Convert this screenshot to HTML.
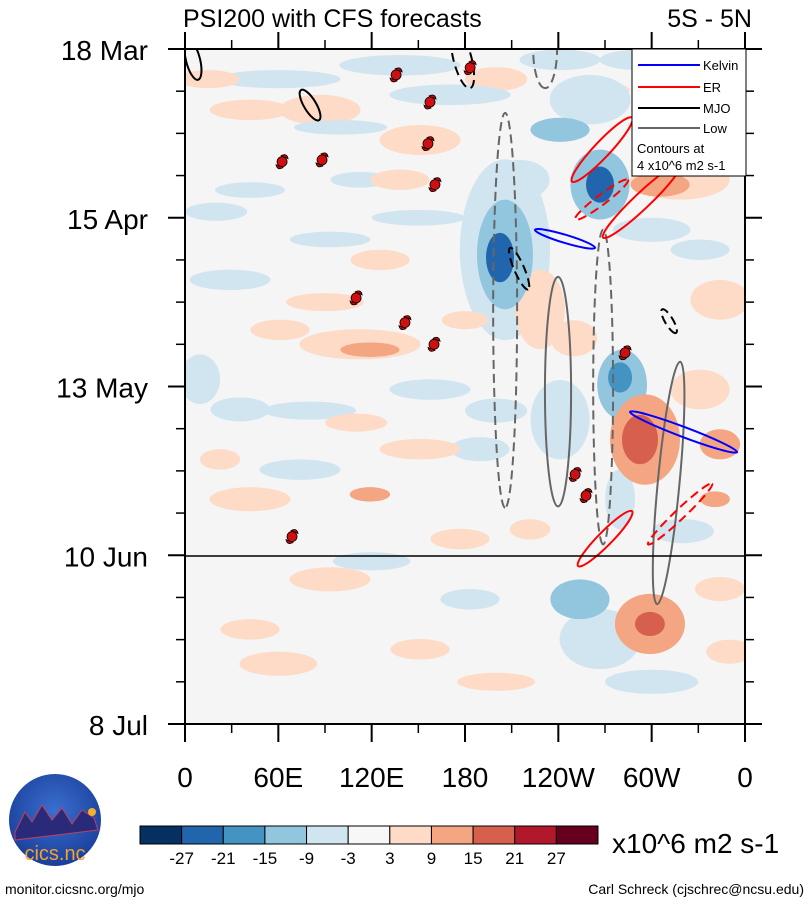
<!DOCTYPE html>
<html><head><meta charset="utf-8">
<style>
html,body{margin:0;padding:0;background:#fff;}
svg{display:block;font-family:"Liberation Sans",Arial,sans-serif;}
</style></head>
<body>
<svg id="chart" width="809" height="907" viewBox="0 0 809 907" xmlns="http://www.w3.org/2000/svg">
<defs>
<clipPath id="plotclip"><rect x="185" y="49" width="560" height="675"/></clipPath>
<radialGradient id="logog" cx="50%" cy="40%" r="60%"><stop offset="0" stop-color="#3a6fd0"/><stop offset="1" stop-color="#1a3f9a"/></radialGradient>
</defs>
<text x="183" y="27" font-size="25" fill="#000">PSI200 with CFS forecasts</text>
<text x="752" y="27" font-size="25" text-anchor="end" fill="#000">5S - 5N</text>
<rect x="185" y="49" width="560" height="675" fill="#f5f5f5"/>
<g id="field" clip-path="url(#plotclip)"></g>
<g id="contours" clip-path="url(#plotclip)"></g>
<g id="storms"></g>
<line x1="185" y1="556" x2="745" y2="556" stroke="#000" stroke-width="1.5"/>
<rect x="185" y="49" width="560" height="675" fill="none" stroke="#000" stroke-width="2"/>
<g id="axes"></g>
<g>
<rect x="632" y="49" width="114" height="127" fill="#fff" stroke="#000" stroke-width="1"/>
<line x1="638" y1="65" x2="700" y2="65" stroke="#0000ff" stroke-width="2"/>
<text x="703" y="70" font-size="13">Kelvin</text>
<line x1="638" y1="87" x2="700" y2="87" stroke="#ff0000" stroke-width="2"/>
<text x="703" y="92" font-size="13">ER</text>
<line x1="638" y1="108" x2="700" y2="108" stroke="#000" stroke-width="2"/>
<text x="703" y="113" font-size="13">MJO</text>
<line x1="638" y1="128" x2="700" y2="128" stroke="#666" stroke-width="2"/>
<text x="703" y="133" font-size="13">Low</text>
<text x="637" y="153" font-size="13">Contours at</text>
<text x="637" y="170" font-size="13">4 x10^6 m2 s-1</text>
</g>
<g id="colorbar"></g>
<text x="612" y="853" font-size="28">x10^6 m2 s-1</text>
<g>
<circle cx="55" cy="820" r="46" fill="url(#logog)"/>
<path d="M15 832 L25 812 L32 822 L42 805 L52 820 L62 808 L72 824 L82 810 L94 818 L98 830 L15 840Z" fill="#2a2a7a" stroke="#c04060" stroke-width="1"/>
<circle cx="92" cy="812" r="4" fill="#f0b030"/>
<text x="55" y="860" font-size="20" fill="#f5a030" text-anchor="middle">cics.nc</text>
</g>
<text x="5" y="894" font-size="14">monitor.cicsnc.org/mjo</text>
<text x="804" y="894" font-size="14" text-anchor="end">Carl Schreck (cjschrec@ncsu.edu)</text>
</svg>
<script>
// ---- data ----
const lonTicks = [0, 60, 120, 180, 240, 300, 360];
const lonLabels = ["0", "60E", "120E", "180", "120W", "60W", "0"];
const dayTicks = [0, 28, 56, 84, 112];
const dayLabels = ["18 Mar", "15 Apr", "13 May", "10 Jun", "8 Jul"];
const cbLevels = [-27, -21, -15, -9, -3, 3, 9, 15, 21, 27];
const cbColors = ["#053061","#2166ac","#4393c3","#92c5de","#d1e5f0","#f7f7f7","#fddbc7","#f4a582","#d6604d","#b2182b","#67001f"];
// anomaly blobs: [lon, day, halfLon, halfDays, value]
const blobLon = [266.8,266.8,202.5,205.7,205.7,279.7,281,241.1,260.4,170.4,138.2,241.1,215.4,41.8,93.2,28.9,9.6,253.9,266.8,183.2,35.4,157.5,241.1,112.5,331.1,73.9,189.6,331.1,292.5,279.7,298.9,298.9,292.5,295.7,343.9,340.7,118.9,112.5,305.4,318.2,151.1,41.8,86.8,125.4,61.1,228.2,151.1,118.9,41.8,93.2,41.8,151.1,343.9,331.1,22.5,266.8,176.8,221.8,343.9,138.2,
60,100,20,300,150,80,200,320,120,300,15,200,90,180,250,60,200,350,110,330];
const blobDay = [22.5,22.5,34.6,34.1,33.3,54.5,55.7,13.4,8.4,7.6,2.7,1.8,21.7,23.4,31.6,38.3,54.8,91.3,97.9,91.3,59.8,56.5,61.5,21.7,33.3,69.8,66.4,10.1,1.8,74.7,95.4,95.4,64.8,64.8,65.6,74.7,49.9,49,22.5,21.7,15.1,10.1,10.1,35,46.6,43.2,66.4,73.9,74.7,88,96.3,99.6,41.6,56.5,68.1,6.8,81.3,79.7,89.6,21.7,
5,13,27,30,28,60,60,80,85,105,5,5,42,45,48,102,105,100,62,2];
const blobHalfLon = [9,19,9,18,29,7.7,16,19,26,39,39,26,19,22.5,26,26,13,19,26,19,19,26,19,19,19,26,19,19,26,9.6,9.6,22.5,11.6,22.5,13,9.6,19,39,19,32,26,26,26,19,19,16,26,13,26,26,19,19,19,19,13,19,19,13,16,19,
40,30,20,25,30,30,20,20,25,30,20,20,25,15,15,25,25,15,20,20];
const blobHalfDay = [3,5.8,4.1,9.1,15,2.5,5.8,2,4.1,1.7,1.7,1.7,3.3,1.3,1.3,1.7,4.1,3.3,5,1.7,2,1.7,6.6,1.3,1.7,1.7,2,1.7,1.7,5,2,5,4.1,7.5,2.5,1.3,1.2,2.5,2,3.3,2.5,1.7,2.5,1.7,1.7,6.6,1.7,1.2,2,2,1.7,1.7,3.3,3.3,1.7,1.3,1.7,1.7,2,1.7,
1.5,1.2,1.5,2,1.3,1.5,2,2,1.5,2,1.5,2,1.5,1.5,3,2,1.5,2,1.5,2];
const blobValue = [-22,-12,-22,-12,-5,-18,-10,-12,-6,-6,-6,-6,-6,-6,-5,-5,-5,-12,-6,-5,-5,-5,-6,-5,-5,-5,-5,-5,-6,-6,20,12,18,10,15,12,12,5,12,6,5,5,5,5,5,5,5,10,5,5,5,5,5,5,5,5,5,8,5,5,
-5,-5,-5,-5,-5,-5,-5,-5,-5,-5,5,5,5,5,5,5,5,5,5,5];
// contours
const contourLon1 = [205.8,239.8,268.8,318.3,231.5,183.3,74.6,1.9,209,306.7,248.8,268.8,250.8,252.7,297.7,225,286.1];
const contourDay1 = [10.6,37.8,30,51.9,-6.5,6.5,6.8,-1.5,33,43.2,22,31.3,28.3,85.8,82.2,30,60.2];
const contourLon2 = [205.8,239.8,268.8,303.5,231.5,173.6,86.2,8.4,220.6,315.7,287.4,318.3,284.8,287.4,338.9,263.6,354.9];
const contourDay2 = [76.1,75.9,82.2,92.1,6.5,-3.1,11.8,5.1,39.9,47.1,11.4,19.2,21.7,76.7,72.1,33,66.9];
const contourHalfWidth = [7.7,8.4,6.4,7,7.7,5.8,3.9,4.5,3.2,2.6,5.1,5.1,3.2,4.5,3.2,2.6,3.2];
const contourType = ["low","low","low","low","low","mjo","mjo","mjo","mjo","mjo","er","er","er","er","er","kelvin","kelvin"];
const contourDashed = [1,0,1,0,1,1,0,0,1,1,0,0,1,0,1,0,0];
// tropical cyclones
const stormLon = [135.7,183.3,157.5,156.2,160.7,62.4,88.1,110,141.4,160.1,282.9,250.8,257.8,68.8];
const stormDay = [4.3,3.1,8.8,15.7,22.5,18.7,18.4,41.3,45.4,49,50.4,70.6,74.1,80.9];

// ---- axes functions ----
const X0=185, X1=745, Y0=49, Y1=724;
const xs = lon => X0 + lon/360*(X1-X0);
const ys = day => Y0 + day/112*(Y1-Y0);
const NS="http://www.w3.org/2000/svg";
function mk(tag, attrs, parent){const e=document.createElementNS(NS,tag);for(const k in attrs)e.setAttribute(k,attrs[k]);parent.appendChild(e);return e;}
function colorFor(v){let i=0;while(i<cbLevels.length && v>cbLevels[i])i++;return cbColors[i];}

const field=document.getElementById('field');
const order=blobValue.map((v,i)=>i).sort((a,b)=>Math.abs(blobValue[a])-Math.abs(blobValue[b]));
order.forEach(i=>{
  const e=mk('ellipse',{cx:xs(blobLon[i]),cy:ys(blobDay[i]),rx:xs(blobHalfLon[i])-X0,ry:ys(blobHalfDay[i])-Y0,fill:colorFor(blobValue[i])},field);
  
  
});

const cCol={low:"#666666",mjo:"#000000",er:"#ff0000",kelvin:"#0000ff"};
const cg=document.getElementById('contours');
contourLon1.forEach((_,i)=>{
  const x1=xs(contourLon1[i]),y1=ys(contourDay1[i]),x2=xs(contourLon2[i]),y2=ys(contourDay2[i]);
  const cx=(x1+x2)/2,cy=(y1+y2)/2,rx=Math.hypot(x2-x1,y2-y1)/2,ry=xs(contourHalfWidth[i])-X0;
  const ang=Math.atan2(y2-y1,x2-x1)*180/Math.PI;
  const e=mk('ellipse',{cx:cx,cy:cy,rx:rx,ry:ry,transform:`rotate(${ang} ${cx} ${cy})`,fill:"none",stroke:cCol[contourType[i]],"stroke-width":2,"stroke-dasharray":contourDashed[i]?"9 5":"none"},cg);
  
  
});

const sg=document.getElementById('storms');
stormLon.forEach((_,i)=>{
  const x=xs(stormLon[i]),y=ys(stormDay[i]);
  const g=mk('g',{transform:`translate(${x},${y})`},sg);
  
  
  mk('path',{d:"M-1 -6 Q5 -9 6 -3 Q3 -5 1 -4Z M1 6 Q-5 9 -6 3 Q-3 5 -1 4Z",fill:"#c00",stroke:"#000","stroke-width":0.8},g);
  mk('circle',{cx:0,cy:0,r:5,fill:"#d01010",stroke:"#000","stroke-width":0.8},g);
});

const ax=document.getElementById('axes');
lonTicks.forEach((l,i)=>{
  const x=xs(l);
  mk('line',{x1:x,y1:Y1,x2:x,y2:Y1+18,stroke:"#000","stroke-width":2},ax);
  mk('line',{x1:x,y1:Y0,x2:x,y2:Y0-17,stroke:"#000","stroke-width":2},ax);
  const t=mk('text',{x:x,y:787,"font-size":28,"text-anchor":"middle"},ax);
  t.textContent=lonLabels[i];
  
  
  if(i<lonTicks.length-1){const m=xs(l+30);
    mk('line',{x1:m,y1:Y1,x2:m,y2:Y1+9,stroke:"#000","stroke-width":1.5},ax);
    mk('line',{x1:m,y1:Y0,x2:m,y2:Y0-9,stroke:"#000","stroke-width":1.5},ax);}
});
dayTicks.forEach((d,i)=>{
  const y=ys(d);
  mk('line',{x1:X0-17,y1:y,x2:X0,y2:y,stroke:"#000","stroke-width":2},ax);
  mk('line',{x1:X1,y1:y,x2:X1+17,y2:y,stroke:"#000","stroke-width":2},ax);
  const t=mk('text',{x:148,y:y+11,"font-size":28,"text-anchor":"end"},ax);
  t.textContent=dayLabels[i];
  
  
  if(i<dayTicks.length-1){for(let k=1;k<4;k++){const m=ys(d+k*7);
    mk('line',{x1:X0-9,y1:m,x2:X0,y2:m,stroke:"#000","stroke-width":1.5},ax);
    mk('line',{x1:X1,y1:m,x2:X1+9,y2:m,stroke:"#000","stroke-width":1.5},ax);}}
});

const cb=document.getElementById('colorbar');
const cbX=140, cbW=458, cbY=826, cbH=18, bw=cbW/cbColors.length;
cbColors.forEach((c,i)=>{
  const r=mk('rect',{x:cbX+i*bw,y:cbY,width:bw,height:cbH,fill:c,stroke:"#000","stroke-width":1},cb);
  
  
});
cbLevels.forEach((v,i)=>{
  const t=mk('text',{x:cbX+(i+1)*bw,y:864,"font-size":17,"text-anchor":"middle"},cb);
  t.textContent=String(v);
  
  
});
</script>
</body></html>
